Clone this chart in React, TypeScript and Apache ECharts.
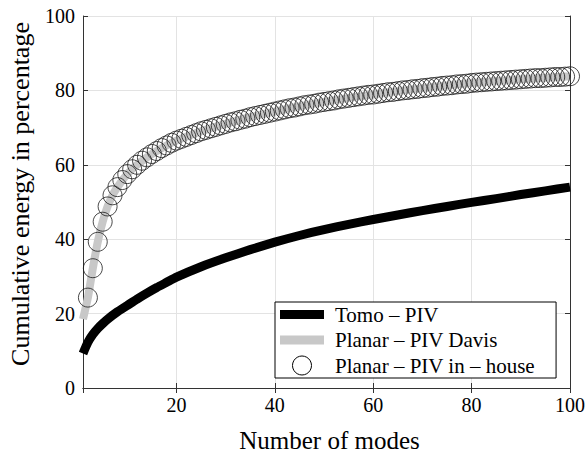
import React, { useEffect, useRef } from "react";
import * as echarts from "echarts";

const FONT = "'Liberation Serif', 'Times New Roman', 'DejaVu Serif', serif";

const seriesNames = ["Tomo – PIV", "Planar – PIV Davis", "Planar – PIV in – house"];

// Tomo-PIV (black line)
const tomoModes = [1, 2, 3, 4, 5, 6, 8, 10, 12, 14, 16, 18, 20, 25, 30, 35, 40, 45, 50, 55, 60, 65, 70, 75, 80, 85, 90, 95, 100];
const tomoValues = [9.3, 12.3, 14.4, 16.0, 17.3, 18.5, 20.5, 22.2, 23.9, 25.5, 27.0, 28.4, 29.8, 32.6, 35.0, 37.2, 39.2, 41.0, 42.6, 44.0, 45.3, 46.5, 47.7, 48.8, 49.9, 50.9, 52.0, 53.0, 54.0];

// Planar-PIV Davis (gray line)
const davisModes = [1, 2, 3, 4, 5, 6, 7, 8, 10, 12, 14, 16, 18, 20, 25, 30, 35, 40, 45, 50, 55, 60, 65, 70, 75, 80, 85, 90, 95, 100];
const davisValues = [18.5, 24.3, 32.2, 39.3, 44.7, 48.8, 51.8, 54.0, 57.5, 60.0, 62.0, 63.7, 65.2, 66.5, 69.0, 71.0, 72.8, 74.3, 75.7, 76.9, 78.0, 78.9, 79.8, 80.6, 81.3, 82.0, 82.5, 83.0, 83.4, 83.8];

// Planar-PIV in-house (circles), modes 2..100
const inHouseFirstMode = 2;
const inHouseValues = [
  24.3, 32.2, 39.3, 44.7, 48.8, 51.8, 54.0, 55.9, 57.5,
  58.8, 60.0, 61.1, 62.0, 62.9, 63.7, 64.5, 65.2, 65.9, 66.5,
  67.0, 67.5, 68.0, 68.5, 69.0, 69.4, 69.8, 70.2, 70.6, 71.0,
  71.4, 71.7, 72.1, 72.4, 72.8, 73.1, 73.4, 73.7, 74.0, 74.3,
  74.6, 74.9, 75.2, 75.4, 75.7, 76.0, 76.2, 76.4, 76.7, 76.9,
  77.1, 77.3, 77.6, 77.8, 78.0, 78.2, 78.4, 78.6, 78.8, 78.9,
  79.1, 79.3, 79.5, 79.6, 79.8, 80.0, 80.1, 80.3, 80.4, 80.6,
  80.7, 80.9, 81.0, 81.2, 81.3, 81.4, 81.6, 81.7, 81.8, 82.0,
  82.1, 82.2, 82.3, 82.4, 82.5, 82.6, 82.7, 82.8, 82.9, 83.0,
  83.1, 83.2, 83.3, 83.3, 83.4, 83.5, 83.6, 83.6, 83.7, 83.8,
];

const xName = "Number of modes";
const yName = "Cumulative energy in percentage";

export default function App() {
  const ref = useRef<HTMLDivElement>(null);

  useEffect(() => {
    if (!ref.current) return;
    const chart = echarts.init(ref.current, undefined, { renderer: "svg" });
    const axisColor = "#333333";
    const gridColor = "#e3e3e3";

    const tomoData = tomoModes.map((m, i) => [m, tomoValues[i]]);
    const davisData = davisModes.map((m, i) => [m, davisValues[i]]);
    const inHouseData = inHouseValues.map((v, i) => [inHouseFirstMode + i, v]);

    const barIcon = "path://M0,0H44V9H0Z";

    chart.setOption({
      animation: false,
      backgroundColor: "#ffffff",
      textStyle: { fontFamily: FONT },
      grid: { left: 83, right: 15, top: 16, bottom: 65, containLabel: false, outerBoundsMode: "none" },
      xAxis: [
        {
          type: "value",
          min: 1,
          max: 100,
          splitNumber: 5,
          position: "bottom",
          name: xName,
          nameLocation: "middle",
          nameGap: 40,
          nameTextStyle: { fontFamily: FONT, fontSize: 25, color: "#000", padding: [0, 0, 0, 6] },
          axisLine: { show: true, lineStyle: { color: axisColor, width: 1 } },
          axisTick: { show: true, inside: true, length: 5, lineStyle: { color: axisColor } },
          axisLabel: { showMinLabel: false, fontFamily: FONT, fontSize: 20, color: "#000", margin: 7 },
          splitLine: { show: true, lineStyle: { color: gridColor, width: 1 } },
        },
        {
          type: "value",
          min: 1,
          max: 100,
          splitNumber: 5,
          position: "top",
          axisLine: { show: true, lineStyle: { color: axisColor, width: 1 } },
          axisTick: { show: true, inside: true, length: 5, lineStyle: { color: axisColor } },
          axisLabel: { show: false },
          splitLine: { show: false },
        },
      ],
      yAxis: [
        {
          type: "value",
          min: 0,
          max: 100,
          interval: 20,
          position: "left",
          name: yName,
          nameLocation: "middle",
          nameGap: 50,
          nameTextStyle: { fontFamily: FONT, fontSize: 26, color: "#000", padding: [0, 0, 0, 16] },
          axisLine: { show: true, lineStyle: { color: axisColor, width: 1 } },
          axisTick: { show: true, inside: true, length: 5, lineStyle: { color: axisColor } },
          axisLabel: { fontFamily: FONT, fontSize: 20, color: "#000", margin: 8 },
          splitLine: { show: true, lineStyle: { color: gridColor, width: 1 } },
        },
        {
          type: "value",
          min: 0,
          max: 100,
          interval: 20,
          position: "right",
          axisLine: { show: true, lineStyle: { color: axisColor, width: 1 } },
          axisTick: { show: true, inside: true, length: 5, lineStyle: { color: axisColor } },
          axisLabel: { show: false },
          splitLine: { show: false },
        },
      ],
      legend: {
        orient: "vertical",
        left: 275,
        top: 302,
        padding: [2, 21, 2, 5],
        itemWidth: 44,
        itemHeight: 19,
        itemGap: 4.5,
        selectedMode: false,
        backgroundColor: "#ffffff",
        borderColor: "#000000",
        borderWidth: 1,
        borderRadius: 0,
        textStyle: { fontFamily: FONT, fontSize: 21, lineHeight: 19, color: "#000", padding: [0, 0, 0, 6] },
        data: [
          { name: seriesNames[0], icon: barIcon, itemStyle: { color: "#000000", borderWidth: 0 } },
          { name: seriesNames[1], icon: barIcon, itemStyle: { color: "#c8c8c8", borderWidth: 0 } },
          { name: seriesNames[2], icon: "circle", itemStyle: { color: "#ffffff", borderColor: "#000000", borderWidth: 1 } },
        ],
      },
      series: [
        {
          name: seriesNames[1],
          type: "line",
          data: davisData,
          xAxisIndex: 0,
          yAxisIndex: 0,
          showSymbol: false,
          symbol: "none",
          smooth: 0.2,
          color: "#c8c8c8",
          lineStyle: { color: "#c8c8c8", width: 8, cap: "butt", join: "round" },
          z: 2,
        },
        {
          name: seriesNames[2],
          type: "scatter",
          data: inHouseData,
          xAxisIndex: 0,
          yAxisIndex: 0,
          symbol: "circle",
          symbolSize: 19,
          clip: false,
          itemStyle: { color: "rgba(0,0,0,0)", borderColor: "#1a1a1a", borderWidth: 0.8, opacity: 1 },
          z: 3,
        },
        {
          name: seriesNames[0],
          type: "line",
          data: tomoData,
          xAxisIndex: 0,
          yAxisIndex: 0,
          showSymbol: false,
          symbol: "none",
          smooth: 0.2,
          color: "#000000",
          lineStyle: { color: "#000000", width: 9, cap: "butt", join: "round" },
          z: 4,
        },
      ],
    });

    return () => chart.dispose();
  }, []);

  return (
    <div
      ref={ref}
      style={{ position: "absolute", left: 0, top: 0, width: 585, height: 453 }}
    />
  );
}
